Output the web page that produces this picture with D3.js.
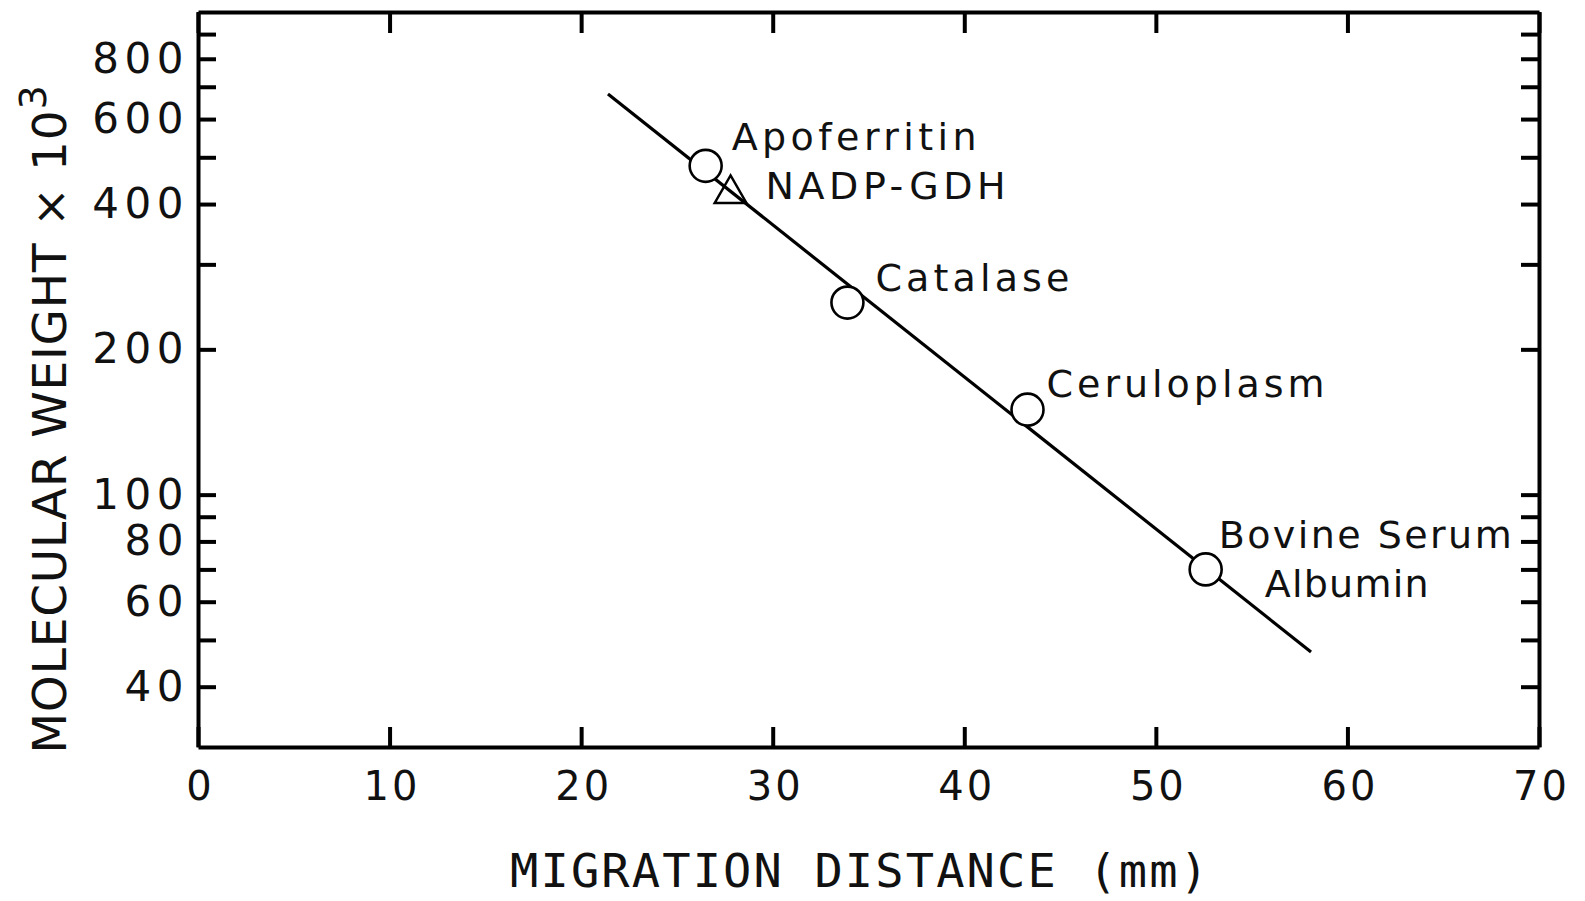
<!DOCTYPE html>
<html>
<head>
<meta charset="utf-8">
<script src="https://cdn.jsdelivr.net/npm/d3@7"></script>
<style>
  html, body { margin: 0; padding: 0; background: #fff; }
  svg { display: block; }
</style>
</head>
<body>
<svg id="chart" width="1585" height="901"></svg>
<script>
// ---- data ----
const xTicks = [0, 10, 20, 30, 40, 50, 60, 70];
const yTicks = [40, 50, 60, 70, 80, 90, 100, 200, 300, 400, 500, 600, 700, 800, 900];
const yTickLabels = [40, 60, 80, 100, 200, 400, 600, 800];

const proteins = ["Apoferritin", "Catalase", "Ceruloplasm", "Bovine Serum Albumin"];
const distance = [26.5, 33.9, 43.3, 52.6];
const molWeight = [480, 250, 150, 70];

const sampleName = ["NADP-GDH"];
const sampleDistance = [27.8];
const sampleMolWeight = [420];

const fitDistance = [21.4, 58.1];
const fitMolWeight = [676, 47.2];

const xTitle = "MIGRATION DISTANCE (mm)";
const yTitle = "MOLECULAR WEIGHT \u00d7 10";

// ---- layout ----
const L = 198, R = 1539, T = 12, B = 747;
const svg = d3.select("#chart");

const x = d3.scaleLinear().domain([0, 70]).range([L, R]);
const y = d3.scaleLog().domain([30, 1000]).range([B, T]);

const tickFont = "'DejaVu Sans', sans-serif";

function styleAxis(g, size, spacing) {
  g.select(".domain").attr("stroke", "#000").attr("stroke-width", 4);
  g.selectAll(".tick line").attr("stroke", "#000").attr("stroke-width", 4);
  g.selectAll(".tick text")
    .attr("fill", "#111")
    .style("font-family", tickFont)
    .style("font-size", (size || 40) + "px")
    .style("letter-spacing", (spacing == null ? 3 : spacing) + "px");
}

// bottom axis with labels
svg.append("g")
  .attr("transform", `translate(0,${B})`)
  .call(d3.axisBottom(x).tickValues(xTicks).tickSizeInner(-20).tickSizeOuter(0).tickPadding(25).tickFormat(d3.format("d")))
  .call(g => styleAxis(g, 40, 3))
  .call(g => g.selectAll(".tick text").attr("dx", "2px"));

// top axis, no labels
svg.append("g")
  .attr("transform", `translate(0,${T})`)
  .call(d3.axisTop(x).tickValues(xTicks).tickSizeInner(-21).tickSizeOuter(0).tickFormat(""))
  .call(g => styleAxis(g));

// left axis with selected labels
svg.append("g")
  .attr("transform", `translate(${L},0)`)
  .call(d3.axisLeft(y).tickValues(yTicks).tickSizeInner(-18).tickSizeOuter(0).tickPadding(9)
    .tickFormat(d => yTickLabels.includes(d) ? String(d) : ""))
  .call(g => styleAxis(g, 42, 5.5));

// right axis, no labels
svg.append("g")
  .attr("transform", `translate(${R},0)`)
  .call(d3.axisRight(y).tickValues(yTicks).tickSizeInner(-18).tickSizeOuter(0).tickFormat(""))
  .call(g => styleAxis(g));

// fit line
const line = d3.line().x(d => x(d[0])).y(d => y(d[1]));
svg.append("path")
  .datum(fitDistance.map((d, i) => [d, fitMolWeight[i]]))
  .attr("d", line)
  .attr("fill", "none")
  .attr("stroke", "#000")
  .attr("stroke-width", 3.2);

// standard protein circles
const pts = proteins.map((p, i) => ({ name: p, d: distance[i], mw: molWeight[i] }));
svg.append("g").selectAll("circle")
  .data(pts)
  .join("circle")
  .attr("cx", d => x(d.d))
  .attr("cy", d => y(d.mw))
  .attr("r", 16)
  .attr("fill", "#fff")
  .attr("stroke", "#000")
  .attr("stroke-width", 2.6);

// sample triangle
const tri = d3.symbol().type(d3.symbolTriangle).size(440);
svg.append("g").selectAll("path")
  .data(sampleName.map((n, i) => ({ name: n, d: sampleDistance[i], mw: sampleMolWeight[i] })))
  .join("path")
  .attr("d", tri)
  .attr("transform", d => `translate(${x(d.d)},${y(d.mw)})`)
  .attr("fill", "none")
  .attr("stroke", "#000")
  .attr("stroke-width", 2.4);

// annotations
const labelFont = "'DejaVu Sans', sans-serif";
function label(txt, px, py, w) {
  svg.append("text")
    .attr("x", px).attr("y", py)
    .attr("fill", "#111")
    .style("font-family", labelFont)
    .style("font-size", "38px")
    .attr("textLength", w)
    .attr("lengthAdjust", "spacing")
    .text(txt);
}
label("Apoferritin", x(distance[0]) + 26, y(molWeight[0]) - 16, 245);
label(sampleName[0], x(sampleDistance[0]) + 35, y(sampleMolWeight[0]) + 5, 240);
label("Catalase", x(distance[1]) + 28, y(molWeight[1]) - 12, 194);
label("Ceruloplasm", x(distance[2]) + 19, y(molWeight[2]) - 13, 278);
label("Bovine Serum", x(distance[3]) + 13, y(molWeight[3]) - 21, 293);
label("Albumin", x(distance[3]) + 59, y(molWeight[3]) + 28, 164);

// x title
svg.append("text")
  .attr("x", 859).attr("y", 887)
  .attr("text-anchor", "middle")
  .attr("fill", "#111")
  .style("font-family", "'DejaVu Sans Mono', monospace")
  .style("font-size", "47px")
  .attr("textLength", 698)
  .attr("lengthAdjust", "spacing")
  .text(xTitle);

// y title
const yt = svg.append("text")
  .attr("transform", `translate(66,${(748 + 90) / 2}) rotate(-90)`)
  .attr("text-anchor", "middle")
  .attr("fill", "#111")
  .style("font-family", "'DejaVu Sans', sans-serif")
  .style("font-size", "47px")
  .style("letter-spacing", "0.8px");
yt.append("tspan").text(yTitle);
yt.append("tspan").attr("dy", -20).style("font-size", "38px").text("3");
</script>
</body>
</html>
